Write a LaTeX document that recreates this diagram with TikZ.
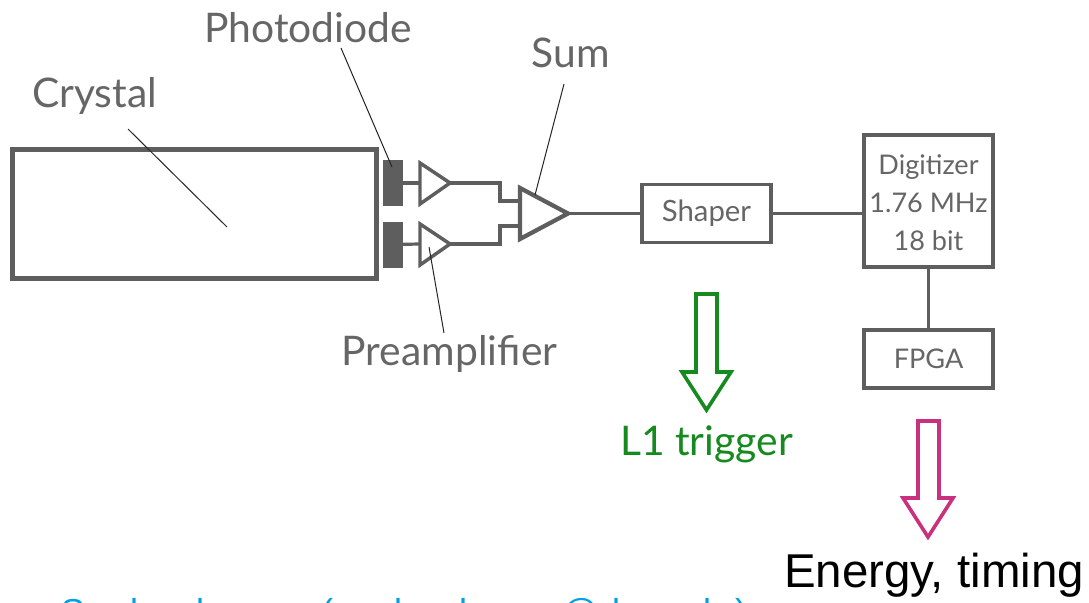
\documentclass[tikz,border=0pt]{standalone}
\usepackage{fontspec}
\setmainfont{Lato}
\newfontfamily\arialfont{Liberation Sans}
\definecolor{dk}{HTML}{5E5E5E}
\definecolor{lbl}{HTML}{666666}
\definecolor{grn}{HTML}{158A1F}
\definecolor{mag}{HTML}{C9317F}
\definecolor{blu}{HTML}{00A0E3}
\tikzset{
  px/.style={x=0.75pt,y=-0.75pt},
  wire/.style={draw=dk,line width=2.6pt,line join=miter},
  thinwire/.style={draw=dk,line width=2.4pt},
  boxn/.style={draw=dk,line width=2.8pt,inner sep=0pt,outer sep=0pt,text=lbl,align=center},
  diode/.style={fill=dk,inner sep=0pt,outer sep=0pt,minimum width=15pt,minimum height=34.5pt},
  lab/.style={text=lbl,font=\fontsize{30.6}{34}\selectfont,inner sep=0pt},
  inlab/.style={font=\fontsize{20.3}{28.5}\selectfont},
  leader/.style={draw=black!85,line width=0.75pt},
  bigarrow/.style={line width=2.7pt,line join=miter,fill=white},
  cut/.style={text=blu,font=\arialfont\fontsize{27}{30}\selectfont,inner sep=0pt,anchor=base}
}
\begin{document}
\begin{tikzpicture}[px]
\useasboundingbox (0,0) rectangle (1089,603);
\fill[white] (0,0) rectangle (1089,603);
% crystal and photodiodes
\node[boxn,line width=3.8pt,minimum width=273.5pt,minimum height=97pt] (crystal) at (194.5,214) {};
\node[diode] (pd1) at (393,183) {};
\node[diode] (pd2) at (393,244.5) {};
% preamp triangles
\coordinate (p1a) at (420,163); \coordinate (p1b) at (420,204); \coordinate (p1t) at (450,183);
\coordinate (p2a) at (420,224); \coordinate (p2b) at (420,265); \coordinate (p2t) at (450,244);
\coordinate (p1in) at (420,183); \coordinate (p2in) at (420,244);
\draw[wire] (p1a) -- (p1t) -- (p1b) -- cycle;
\draw[wire] (p2a) -- (p2t) -- (p2b) -- cycle;
% sum triangle
\coordinate (sa) at (520,188); \coordinate (sb) at (520,239); \coordinate (st) at (568,213.5);
\coordinate (sin1) at (520,201); \coordinate (sin2) at (520,226);
\draw[wire,line width=3.2pt] (sa) -- (st) -- (sb) -- cycle;
% boxes
\node[boxn,minimum width=96.75pt,minimum height=43.5pt,inlab,font=\fontsize{22}{28}\selectfont] (shaper) at (706.5,213.5) {\raisebox{-4.5pt}{Shaper}};
\node[boxn,minimum width=96.75pt,minimum height=99pt,inlab] (digi) at (928.5,201) {\rule{0pt}{17pt}Digitizer\\1.76 MHz\\18 bit};
\node[boxn,minimum width=96.75pt,minimum height=43.5pt,inlab] (fpga) at (928.5,359) {FPGA};
% wires
\draw[thinwire] (pd1) -- (p1in);
\draw[thinwire] (pd2) -- (p2in);
\draw[thinwire] (p1t) -| (500,201) -- (sin1);
\draw[thinwire] (p2t) -| (500,226) -- (sin2);
\draw[thinwire] (st) -- (shaper.west);
\draw[thinwire] (shaper.east) -- (shaper.east -| digi.west);
\draw[wire] (digi.south) -- (fpga.north);
% labels
\node[lab] (lcrystal) at (94.5,96) {Crystal};
\node[lab] (lphoto) at (308,28) {Photodiode};
\node[lab] (lsum) at (571,53) {Sum};
\node[lab] (lpre) at (449.5,354) {Preamplifier};
% leaders
\coordinate (c1) at (128,129); \coordinate (c2) at (227,227);
\coordinate (d1) at (341,48);  \coordinate (d2) at (392,167);
\coordinate (s1) at (564,84);  \coordinate (s2) at (535,195);
\coordinate (e1) at (444,333); \coordinate (e2) at (429,247);
\draw[leader] (c1) -- (c2);
\draw[leader] (d1) -- (d2);
\draw[leader] (s1) -- (s2);
\draw[leader] (e1) -- (e2);
% green arrow
\draw[bigarrow,draw=grn] (696,294) -- (717,294) -- (717,372) -- (731,372) -- (706.5,410) -- (682,372) -- (696,372) -- cycle;
\node[lab,text=grn] (ltrig) at (706.5,444) {L1 trigger};
% magenta arrow
\draw[bigarrow,draw=mag] (918,421) -- (939,421) -- (939,498) -- (953,498) -- (928,537) -- (903,498) -- (918,498) -- cycle;
\node[inner sep=0pt,font=\arialfont\fontsize{35.6}{38}\selectfont,text=black] (lenergy) at (934,575) {Energy, timing};
% tops of the cropped line of text at the lower edge
\begin{scope}
\clip (0,0) rectangle (1089,603);
\node[cut] (f1) at (73,624) {S};
\node[cut] (f2) at (134,624) {l};
\node[cut] (f3) at (200,624) {l};
\node[cut] (f4) at (327,624) {(};
\node[cut] (f5) at (398,624) {l};
\node[cut] (f6) at (463,624) {l};
\node[cut] (f7) at (580,624) {@};
\node[cut] (f8) at (616,624) {l};
\node[cut] (f9) at (707,624) {l};
\node[cut] (f10) at (741,624) {)};
\end{scope}
\end{tikzpicture}
\end{document}
